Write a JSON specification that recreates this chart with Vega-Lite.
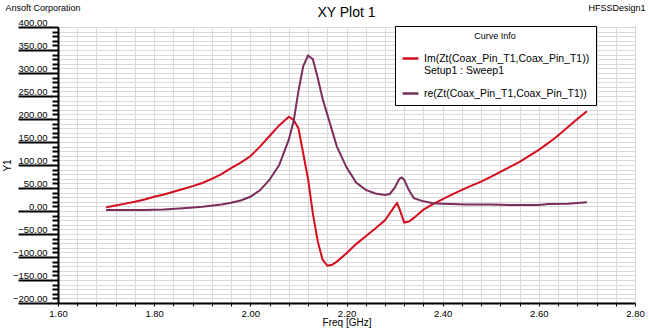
{
  "$schema": "https://vega.github.io/schema/vega-lite/v6.json",
  "width": 577,
  "height": 276,
  "autosize": {"type": "none"},
  "padding": {"left": 58, "top": 27, "right": 14, "bottom": 27},
  "background": "white",
  "config": {
    "font": "Liberation Sans",
    "view": {"stroke": "#000000", "strokeWidth": 1},
    "axis": {"labelFont": "Liberation Sans", "titleFont": "Liberation Sans", "titleFontWeight": "normal"}
  },
  "title": {"text": "XY Plot 1", "fontSize": 14, "fontWeight": "normal", "font": "Liberation Sans", "anchor": "middle", "offset": 5, "dy": 22, "color": "#000"},
  "data": {"values": [
    {"f": 1.70, "v": 8, "s": "Im(Zt(Coax_Pin_T1,Coax_Pin_T1))"},
    {"f": 1.72, "v": 12, "s": "Im(Zt(Coax_Pin_T1,Coax_Pin_T1))"},
    {"f": 1.74, "v": 16, "s": "Im(Zt(Coax_Pin_T1,Coax_Pin_T1))"},
    {"f": 1.76, "v": 20, "s": "Im(Zt(Coax_Pin_T1,Coax_Pin_T1))"},
    {"f": 1.78, "v": 25, "s": "Im(Zt(Coax_Pin_T1,Coax_Pin_T1))"},
    {"f": 1.80, "v": 31, "s": "Im(Zt(Coax_Pin_T1,Coax_Pin_T1))"},
    {"f": 1.82, "v": 36, "s": "Im(Zt(Coax_Pin_T1,Coax_Pin_T1))"},
    {"f": 1.84, "v": 42, "s": "Im(Zt(Coax_Pin_T1,Coax_Pin_T1))"},
    {"f": 1.86, "v": 48, "s": "Im(Zt(Coax_Pin_T1,Coax_Pin_T1))"},
    {"f": 1.88, "v": 54, "s": "Im(Zt(Coax_Pin_T1,Coax_Pin_T1))"},
    {"f": 1.90, "v": 61, "s": "Im(Zt(Coax_Pin_T1,Coax_Pin_T1))"},
    {"f": 1.92, "v": 70, "s": "Im(Zt(Coax_Pin_T1,Coax_Pin_T1))"},
    {"f": 1.94, "v": 80, "s": "Im(Zt(Coax_Pin_T1,Coax_Pin_T1))"},
    {"f": 1.96, "v": 93, "s": "Im(Zt(Coax_Pin_T1,Coax_Pin_T1))"},
    {"f": 1.98, "v": 105, "s": "Im(Zt(Coax_Pin_T1,Coax_Pin_T1))"},
    {"f": 2.00, "v": 119, "s": "Im(Zt(Coax_Pin_T1,Coax_Pin_T1))"},
    {"f": 2.02, "v": 140, "s": "Im(Zt(Coax_Pin_T1,Coax_Pin_T1))"},
    {"f": 2.04, "v": 163, "s": "Im(Zt(Coax_Pin_T1,Coax_Pin_T1))"},
    {"f": 2.06, "v": 186, "s": "Im(Zt(Coax_Pin_T1,Coax_Pin_T1))"},
    {"f": 2.08, "v": 205, "s": "Im(Zt(Coax_Pin_T1,Coax_Pin_T1))"},
    {"f": 2.09, "v": 198, "s": "Im(Zt(Coax_Pin_T1,Coax_Pin_T1))"},
    {"f": 2.10, "v": 180, "s": "Im(Zt(Coax_Pin_T1,Coax_Pin_T1))"},
    {"f": 2.11, "v": 125, "s": "Im(Zt(Coax_Pin_T1,Coax_Pin_T1))"},
    {"f": 2.12, "v": 70, "s": "Im(Zt(Coax_Pin_T1,Coax_Pin_T1))"},
    {"f": 2.13, "v": -5, "s": "Im(Zt(Coax_Pin_T1,Coax_Pin_T1))"},
    {"f": 2.14, "v": -65, "s": "Im(Zt(Coax_Pin_T1,Coax_Pin_T1))"},
    {"f": 2.15, "v": -105, "s": "Im(Zt(Coax_Pin_T1,Coax_Pin_T1))"},
    {"f": 2.16, "v": -119, "s": "Im(Zt(Coax_Pin_T1,Coax_Pin_T1))"},
    {"f": 2.17, "v": -117, "s": "Im(Zt(Coax_Pin_T1,Coax_Pin_T1))"},
    {"f": 2.18, "v": -110, "s": "Im(Zt(Coax_Pin_T1,Coax_Pin_T1))"},
    {"f": 2.20, "v": -92, "s": "Im(Zt(Coax_Pin_T1,Coax_Pin_T1))"},
    {"f": 2.22, "v": -72, "s": "Im(Zt(Coax_Pin_T1,Coax_Pin_T1))"},
    {"f": 2.24, "v": -55, "s": "Im(Zt(Coax_Pin_T1,Coax_Pin_T1))"},
    {"f": 2.26, "v": -38, "s": "Im(Zt(Coax_Pin_T1,Coax_Pin_T1))"},
    {"f": 2.28, "v": -20, "s": "Im(Zt(Coax_Pin_T1,Coax_Pin_T1))"},
    {"f": 2.30, "v": 10, "s": "Im(Zt(Coax_Pin_T1,Coax_Pin_T1))"},
    {"f": 2.305, "v": 17, "s": "Im(Zt(Coax_Pin_T1,Coax_Pin_T1))"},
    {"f": 2.31, "v": 5, "s": "Im(Zt(Coax_Pin_T1,Coax_Pin_T1))"},
    {"f": 2.32, "v": -25, "s": "Im(Zt(Coax_Pin_T1,Coax_Pin_T1))"},
    {"f": 2.33, "v": -23, "s": "Im(Zt(Coax_Pin_T1,Coax_Pin_T1))"},
    {"f": 2.34, "v": -15, "s": "Im(Zt(Coax_Pin_T1,Coax_Pin_T1))"},
    {"f": 2.36, "v": 3, "s": "Im(Zt(Coax_Pin_T1,Coax_Pin_T1))"},
    {"f": 2.38, "v": 15, "s": "Im(Zt(Coax_Pin_T1,Coax_Pin_T1))"},
    {"f": 2.40, "v": 26, "s": "Im(Zt(Coax_Pin_T1,Coax_Pin_T1))"},
    {"f": 2.42, "v": 36, "s": "Im(Zt(Coax_Pin_T1,Coax_Pin_T1))"},
    {"f": 2.44, "v": 46, "s": "Im(Zt(Coax_Pin_T1,Coax_Pin_T1))"},
    {"f": 2.46, "v": 55, "s": "Im(Zt(Coax_Pin_T1,Coax_Pin_T1))"},
    {"f": 2.48, "v": 64, "s": "Im(Zt(Coax_Pin_T1,Coax_Pin_T1))"},
    {"f": 2.50, "v": 74, "s": "Im(Zt(Coax_Pin_T1,Coax_Pin_T1))"},
    {"f": 2.52, "v": 85, "s": "Im(Zt(Coax_Pin_T1,Coax_Pin_T1))"},
    {"f": 2.54, "v": 96, "s": "Im(Zt(Coax_Pin_T1,Coax_Pin_T1))"},
    {"f": 2.56, "v": 107, "s": "Im(Zt(Coax_Pin_T1,Coax_Pin_T1))"},
    {"f": 2.58, "v": 120, "s": "Im(Zt(Coax_Pin_T1,Coax_Pin_T1))"},
    {"f": 2.60, "v": 133, "s": "Im(Zt(Coax_Pin_T1,Coax_Pin_T1))"},
    {"f": 2.62, "v": 148, "s": "Im(Zt(Coax_Pin_T1,Coax_Pin_T1))"},
    {"f": 2.64, "v": 164, "s": "Im(Zt(Coax_Pin_T1,Coax_Pin_T1))"},
    {"f": 2.66, "v": 182, "s": "Im(Zt(Coax_Pin_T1,Coax_Pin_T1))"},
    {"f": 2.68, "v": 200, "s": "Im(Zt(Coax_Pin_T1,Coax_Pin_T1))"},
    {"f": 2.70, "v": 217, "s": "Im(Zt(Coax_Pin_T1,Coax_Pin_T1))"},
    {"f": 1.70, "v": 2, "s": "re(Zt(Coax_Pin_T1,Coax_Pin_T1))"},
    {"f": 1.74, "v": 2, "s": "re(Zt(Coax_Pin_T1,Coax_Pin_T1))"},
    {"f": 1.78, "v": 2, "s": "re(Zt(Coax_Pin_T1,Coax_Pin_T1))"},
    {"f": 1.82, "v": 3, "s": "re(Zt(Coax_Pin_T1,Coax_Pin_T1))"},
    {"f": 1.86, "v": 6, "s": "re(Zt(Coax_Pin_T1,Coax_Pin_T1))"},
    {"f": 1.90, "v": 9, "s": "re(Zt(Coax_Pin_T1,Coax_Pin_T1))"},
    {"f": 1.94, "v": 14, "s": "re(Zt(Coax_Pin_T1,Coax_Pin_T1))"},
    {"f": 1.96, "v": 18, "s": "re(Zt(Coax_Pin_T1,Coax_Pin_T1))"},
    {"f": 1.98, "v": 23, "s": "re(Zt(Coax_Pin_T1,Coax_Pin_T1))"},
    {"f": 2.00, "v": 31, "s": "re(Zt(Coax_Pin_T1,Coax_Pin_T1))"},
    {"f": 2.02, "v": 45, "s": "re(Zt(Coax_Pin_T1,Coax_Pin_T1))"},
    {"f": 2.04, "v": 68, "s": "re(Zt(Coax_Pin_T1,Coax_Pin_T1))"},
    {"f": 2.06, "v": 100, "s": "re(Zt(Coax_Pin_T1,Coax_Pin_T1))"},
    {"f": 2.08, "v": 155, "s": "re(Zt(Coax_Pin_T1,Coax_Pin_T1))"},
    {"f": 2.09, "v": 195, "s": "re(Zt(Coax_Pin_T1,Coax_Pin_T1))"},
    {"f": 2.10, "v": 260, "s": "re(Zt(Coax_Pin_T1,Coax_Pin_T1))"},
    {"f": 2.11, "v": 315, "s": "re(Zt(Coax_Pin_T1,Coax_Pin_T1))"},
    {"f": 2.12, "v": 338, "s": "re(Zt(Coax_Pin_T1,Coax_Pin_T1))"},
    {"f": 2.13, "v": 330, "s": "re(Zt(Coax_Pin_T1,Coax_Pin_T1))"},
    {"f": 2.14, "v": 290, "s": "re(Zt(Coax_Pin_T1,Coax_Pin_T1))"},
    {"f": 2.15, "v": 245, "s": "re(Zt(Coax_Pin_T1,Coax_Pin_T1))"},
    {"f": 2.16, "v": 210, "s": "re(Zt(Coax_Pin_T1,Coax_Pin_T1))"},
    {"f": 2.18, "v": 140, "s": "re(Zt(Coax_Pin_T1,Coax_Pin_T1))"},
    {"f": 2.20, "v": 95, "s": "re(Zt(Coax_Pin_T1,Coax_Pin_T1))"},
    {"f": 2.22, "v": 62, "s": "re(Zt(Coax_Pin_T1,Coax_Pin_T1))"},
    {"f": 2.24, "v": 46, "s": "re(Zt(Coax_Pin_T1,Coax_Pin_T1))"},
    {"f": 2.26, "v": 38, "s": "re(Zt(Coax_Pin_T1,Coax_Pin_T1))"},
    {"f": 2.28, "v": 35, "s": "re(Zt(Coax_Pin_T1,Coax_Pin_T1))"},
    {"f": 2.29, "v": 37, "s": "re(Zt(Coax_Pin_T1,Coax_Pin_T1))"},
    {"f": 2.30, "v": 50, "s": "re(Zt(Coax_Pin_T1,Coax_Pin_T1))"},
    {"f": 2.31, "v": 70, "s": "re(Zt(Coax_Pin_T1,Coax_Pin_T1))"},
    {"f": 2.315, "v": 73, "s": "re(Zt(Coax_Pin_T1,Coax_Pin_T1))"},
    {"f": 2.32, "v": 68, "s": "re(Zt(Coax_Pin_T1,Coax_Pin_T1))"},
    {"f": 2.33, "v": 45, "s": "re(Zt(Coax_Pin_T1,Coax_Pin_T1))"},
    {"f": 2.34, "v": 28, "s": "re(Zt(Coax_Pin_T1,Coax_Pin_T1))"},
    {"f": 2.36, "v": 21, "s": "re(Zt(Coax_Pin_T1,Coax_Pin_T1))"},
    {"f": 2.38, "v": 17, "s": "re(Zt(Coax_Pin_T1,Coax_Pin_T1))"},
    {"f": 2.40, "v": 16, "s": "re(Zt(Coax_Pin_T1,Coax_Pin_T1))"},
    {"f": 2.45, "v": 14, "s": "re(Zt(Coax_Pin_T1,Coax_Pin_T1))"},
    {"f": 2.50, "v": 14, "s": "re(Zt(Coax_Pin_T1,Coax_Pin_T1))"},
    {"f": 2.55, "v": 13, "s": "re(Zt(Coax_Pin_T1,Coax_Pin_T1))"},
    {"f": 2.60, "v": 13, "s": "re(Zt(Coax_Pin_T1,Coax_Pin_T1))"},
    {"f": 2.62, "v": 15, "s": "re(Zt(Coax_Pin_T1,Coax_Pin_T1))"},
    {"f": 2.66, "v": 16, "s": "re(Zt(Coax_Pin_T1,Coax_Pin_T1))"},
    {"f": 2.70, "v": 19, "s": "re(Zt(Coax_Pin_T1,Coax_Pin_T1))"}
  ]},
  "layer": [
    {
      "mark": {"type": "line", "strokeWidth": 2, "clip": true},
      "encoding": {
        "x": {"field": "f", "type": "quantitative", "scale": {"domain": [1.6, 2.8], "nice": false, "zero": false},
          "axis": {"orient": "bottom", "title": "Freq [GHz]", "titleFontSize": 10, "titleColor": "#000", "titlePadding": 0,
            "values": [1.6,1.64,1.68,1.72,1.76,1.8,1.84,1.88,1.92,1.96,2.0,2.04,2.08,2.12,2.16,2.2,2.24,2.28,2.32,2.36,2.4,2.44,2.48,2.52,2.56,2.6,2.64,2.68,2.72,2.76,2.8],
            "labelExpr": "abs(datum.value*5 - round(datum.value*5)) < 0.001 ? format(datum.value, '.2f') : ''",
            "labelOverlap": false, "labelFlush": false, "labelFontSize": 9.5, "labelColor": "#000", "labelPadding": 2,
            "tickColor": "#000", "tickSize": 3, "tickWidth": 1,
            "domainColor": "#000", "domainWidth": 2,
            "gridColor": "#d9d9d9", "gridWidth": 1}},
        "y": {"field": "v", "type": "quantitative", "scale": {"domain": [-200, 400], "nice": false},
          "axis": {"orient": "left", "title": "Y1", "titleFontSize": 10, "titleColor": "#000", "titlePadding": 0,
            "values": [-200,-190,-180,-170,-160,-150,-140,-130,-120,-110,-100,-90,-80,-70,-60,-50,-40,-30,-20,-10,0,10,20,30,40,50,60,70,80,90,100,110,120,130,140,150,160,170,180,190,200,210,220,230,240,250,260,270,280,290,300,310,320,330,340,350,360,370,380,390,400],
            "labelExpr": "abs(datum.value/50 - round(datum.value/50)) < 0.001 ? format(datum.value, '.2f') : ''",
            "labelOverlap": false, "labelFlush": false, "labelFontSize": 9.5, "labelColor": "#000",
            "labelPadding": -29, "labelBaseline": "bottom", "labelOffset": 0,
            "tickColor": "#000",
            "tickSize": {"condition": {"test": "abs(datum.value/50 - round(datum.value/50)) < 0.001", "value": 40}, "value": 6},
            "tickWidth": 2,
            "domainColor": "#000", "domainWidth": 2,
            "gridColor": "#d9d9d9", "gridWidth": 1}},
        "color": {"field": "s", "type": "nominal",
          "scale": {"domain": ["Im(Zt(Coax_Pin_T1,Coax_Pin_T1))", "re(Zt(Coax_Pin_T1,Coax_Pin_T1))"], "range": ["#d40d1e", "#7b2d5e"]},
          "legend": {"orient": "none", "legendX": 337, "legendY": -1, "title": "Curve Info", "titleAnchor": "middle",
            "titleFontSize": 9, "titleFontWeight": "normal", "titleColor": "#000", "titlePadding": 8,
            "labelFontSize": 10.5, "labelColor": "#000", "labelLimit": 400,
            "labelExpr": "datum.label[0] == 'I' ? [datum.label + '\u00a0\u00a0\u00a0\u00a0\u00a0\u00a0\u00a0\u00a0\u00a0\u00a0\u00a0\u00a0\u00a0\u00a0\u00a0', 'Setup1 : Sweep1'] : datum.label",
            "symbolType": "stroke", "symbolStrokeWidth": 2.5, "symbolSize": 250, "symbolOffset": 0,
            "rowPadding": 7, "padding": 6,
            "strokeColor": "#000", "fillColor": "#fff"}}
      }
    },
    {
      "mark": {"type": "point", "opacity": 0},
      "encoding": {
        "x": {"field": "f", "type": "quantitative", "scale": {"domain": [1.6, 2.8], "nice": false, "zero": false},
          "axis": {"orient": "top", "labels": false, "ticks": false, "domain": false, "grid": false,
            "title": "Ansoft Corporation", "titleFontSize": 9, "titleColor": "#000", "titleAnchor": "start",
            "titleAlign": "left", "titleX": -53, "titleY": -20, "titleBaseline": "middle"}},
        "y": {"field": "v", "type": "quantitative", "scale": {"domain": [-200, 400], "nice": false},
          "axis": {"orient": "right", "labels": false, "ticks": false, "domain": false, "grid": false,
            "title": "HFSSDesign1", "titleFontSize": 9, "titleColor": "#000", "titleAngle": 0,
            "titleAlign": "right", "titleX": 10, "titleY": -20, "titleBaseline": "middle"}}
      }
    }
  ],
  "resolve": {"axis": {"x": "independent", "y": "independent"}}
}
